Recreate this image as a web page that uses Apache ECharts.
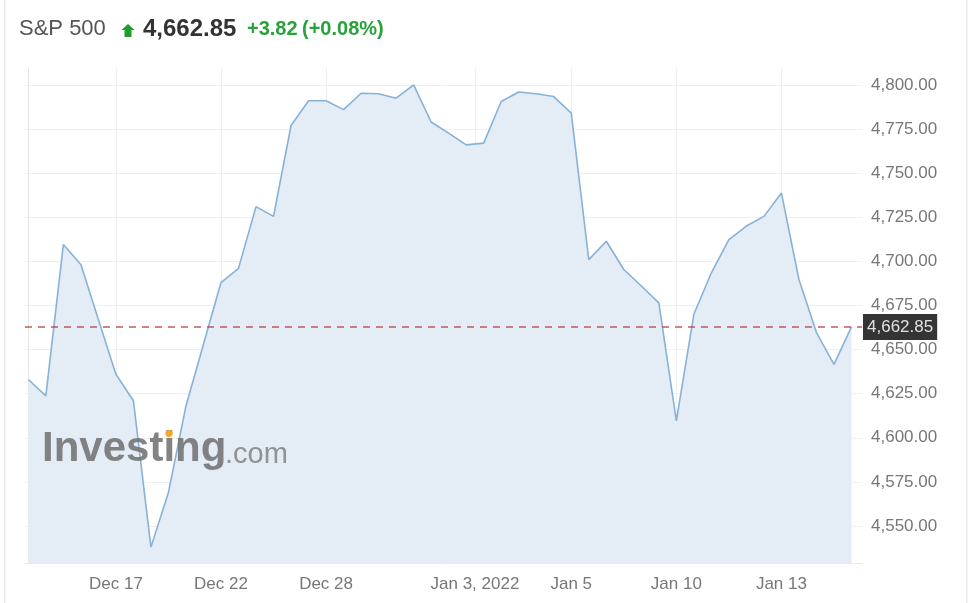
<!DOCTYPE html>
<html>
<head>
<meta charset="utf-8">
<script src="https://cdn.jsdelivr.net/npm/echarts@6/dist/echarts.min.js"></script>
<style>html,body{margin:0;padding:0;background:#fff}#c{width:970px;height:603px}</style>
</head>
<body>
<div id="c"></div>
<script>
var prices = [4633, 4623.7, 4709.5, 4698.2, 4667, 4636, 4621, 4538, 4569, 4618,
  4653, 4688, 4696, 4731, 4725.5, 4777, 4791, 4791, 4786, 4795.3,
  4795, 4792.5, 4800, 4779, 4772.7, 4766, 4767, 4790.6, 4796, 4795,
  4793.4, 4784, 4701, 4711.4, 4695.4, 4686, 4676.5, 4609.6, 4670, 4693.5,
  4712.3, 4720, 4725.5, 4738.7, 4689.7, 4659.6, 4641.6, 4662.85];
var dateTickPos = [5, 11, 17, 25.5, 31, 37, 43];
var dateTickText = ['Dec 17', 'Dec 22', 'Dec 28', 'Jan 3, 2022', 'Jan 5', 'Jan 10', 'Jan 13'];
var priceTicks = [4550, 4575, 4600, 4625, 4650, 4675, 4700, 4725, 4750, 4775, 4800];
var lastPrice = 4662.85;
var headerName = 'S&P 500';
var headerPrice = '4,662.85';
var headerChange = '+3.82';
var headerPct = '(+0.08%)';

var points = prices.map(function (v, i) { return [i, v]; });
var fmt = function (v) {
  return v.toLocaleString('en-US', {minimumFractionDigits: 2, maximumFractionDigits: 2});
};
var font = '"Liberation Sans", Arial, sans-serif';

var chart = echarts.init(document.getElementById('c'), null, {renderer: 'canvas'});
chart.setOption({
  animation: false,
  backgroundColor: '#fff',
  grid: {left: 25, right: 108, top: 68, bottom: 40, containLabel: false},
  xAxis: {
    type: 'value', min: -0.19, max: 47.6,
    axisLine: {show: true, lineStyle: {color: '#eaeaea'}},
    axisTick: {show: false, customValues: dateTickPos},
    splitLine: {show: true, lineStyle: {color: '#efefef', width: 1}},
    axisLabel: {
      customValues: dateTickPos,
      color: '#777', fontFamily: font, fontSize: 17, margin: 13,
      formatter: function (v) {
        var k = dateTickPos.indexOf(v);
        return k >= 0 ? dateTickText[k] : '';
      }
    }
  },
  yAxis: {
    type: 'value', position: 'right', min: 4529, max: 4809.6, scale: true,
    axisLine: {show: true, lineStyle: {color: '#e6e6e6'}},
    axisTick: {show: false, customValues: priceTicks},
    splitLine: {show: true, lineStyle: {color: '#f0f0f0', width: 1}},
    axisLabel: {
      customValues: priceTicks,
      color: '#777', fontFamily: font, fontSize: 17, margin: 9,
      formatter: function (v) { return fmt(v); }
    }
  },
  series: [{
    type: 'line',
    data: points,
    showSymbol: false,
    lineStyle: {color: '#86b2d8', width: 1.6},
    areaStyle: {color: '#e4edf6', opacity: 1},
    z: 2,
    markLine: {
      silent: true,
      symbol: ['none', 'none'],
      lineStyle: {color: '#b8403d', type: [7, 6], width: 1.5, opacity: 0.85},
      label: {
        show: true, position: 'end', distance: 1,
        formatter: function () { return fmt(lastPrice); },
        backgroundColor: '#111', color: '#fff', fontFamily: font, fontSize: 17,
        padding: [5, 4, 4, 4]
      },
      data: [{yAxis: lastPrice}]
    }
  }],
  graphic: [
    {type: 'rect', shape: {x: 4, y: 0, width: 1.5, height: 603}, style: {fill: '#e8e8e8'}, silent: true},
    {type: 'rect', shape: {x: 966, y: 0, width: 1.5, height: 603}, style: {fill: '#ececec'}, silent: true},
    {type: 'text', left: 19, top: 18, style: {text: headerName, font: '22px ' + font, fill: '#555'}},
    {type: 'polygon', shape: {points: [[128, 24], [134.5, 30], [131.5, 30], [131.5, 37], [124.5, 37], [124.5, 30], [121.5, 30]]}, style: {fill: '#1f9d2e'}},
    {type: 'text', left: 143, top: 17, style: {text: headerPrice, font: 'bold 24px ' + font, fill: '#333'}},
    {type: 'text', left: 247, top: 19, style: {text: headerChange, font: 'bold 20px ' + font, fill: '#27a33a'}},
    {type: 'text', left: 302, top: 19, style: {text: headerPct, font: 'bold 20px ' + font, fill: '#27a33a'}},
    {type: 'text', left: 42, top: 428, z: 50, style: {text: 'Investing', font: 'bold 42px ' + font, fill: '#727272', opacity: 0.88}},
    {type: 'text', left: 225, top: 440, z: 50, style: {text: '.com', font: '29px ' + font, fill: '#858585', opacity: 0.88}},
    {type: 'circle', shape: {cx: 169, cy: 433.5, r: 3.6}, z: 51, style: {fill: '#f5a623'}}
  ]
});
</script>
</body>
</html>
